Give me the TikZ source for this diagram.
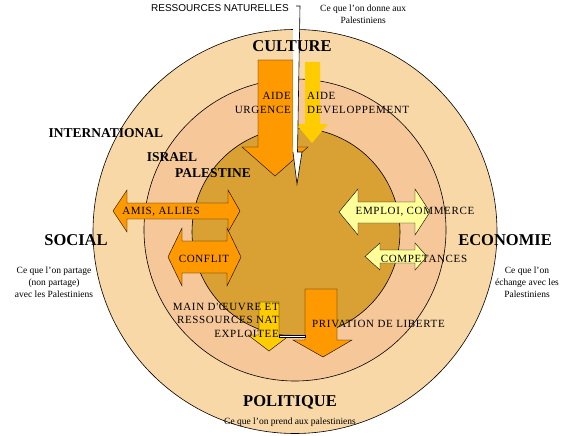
\documentclass[tikz,border=0pt]{standalone}
\usepackage{fontspec}
\setmainfont{Liberation Serif}
\newfontfamily\arialfam{Liberation Sans}
\newfontfamily\spacedfam{Liberation Serif}[LetterSpace=6.0]
\usepackage{tikz}
\definecolor{ringout}{HTML}{F9D8A8}
\definecolor{ringmid}{HTML}{F5C799}
\definecolor{ringin}{HTML}{D9A134}
\definecolor{arrorange}{HTML}{FF9900}
\definecolor{arryellow}{HTML}{FFCC00}
\definecolor{arrpale}{HTML}{FFFF99}
\tikzset{
  ring/.style={draw=black, line width=0.6pt},
  blockarr/.style={draw=black, line width=0.4pt, line join=miter},
  sphere/.style={font=\bfseries\fontsize{16.5}{18}\selectfont, inner sep=0pt},
  level/.style={font=\bfseries\fontsize{13.5}{15}\selectfont, inner sep=0pt},
  note/.style={font=\fontsize{9.5}{12}\selectfont, align=center, inner sep=0pt},
  tag/.style={font=\spacedfam\fontsize{11}{13.5}\selectfont, inner sep=0pt}
}

\begin{document}
\begin{tikzpicture}[x=1pt, y=-1pt]
  \useasboundingbox (0,0) rectangle (576,436);
  % rings
  \fill[ringout, ring] (295,231.5) circle (202pt);
  \fill[ringmid, ring] (295,230) circle (151pt);
  \fill[ringin, ring]  (296,232) circle (104pt);
  % arrows going in
  \fill[arrorange, blockarr] (258,60)--(293,60)--(293,147)--(308,147)--(275,176)--(242,147)--(258,147)--cycle;
  \fill[arryellow] (305,62)--(320,62)--(320,124)--(328,124)--(312,143)--(296,124)--(305,124)--cycle;
  \fill[white] (293,6)--(300,6)--(297.5,152)--(302,152)--(297,184)--(293,152)--cycle;
  \draw[line width=0.6pt] (296,6)--(300,6)--(297.5,152)--(302,152)--(297,184)--(293,152);
  % arrows both ways
  \fill[arrorange, blockarr] (113,211)--(127,190)--(127,203)--(228,203)--(228,190)--(240,211)--(228,232)--(228,219)--(127,219)--(127,232)--cycle;
  \fill[arrorange, blockarr] (168,257)--(182,228)--(182,241)--(227,241)--(227,228)--(241,257)--(227,286)--(227,273)--(182,273)--(182,286)--cycle;
  \fill[arrpale, blockarr] (339,212)--(358,189)--(358,202)--(415,202)--(415,189)--(430,212)--(415,235)--(415,223)--(358,223)--(358,235)--cycle;
  \fill[arrpale, blockarr] (365,256.5)--(380,243)--(380,250)--(415,250)--(415,243)--(427,256.5)--(415,270)--(415,263)--(380,263)--(380,270)--cycle;
  % arrows going out
  \fill[arryellow, blockarr] (259,302)--(279,302)--(279,335)--(290,335)--(269,351)--(248,335)--(259,335)--cycle;
  \fill[arrorange, blockarr] (305,289)--(337,289)--(337,340)--(352,340)--(323,357)--(293,340)--(305,340)--cycle;
  \draw[fill=white, line width=0.4pt] (279,335) rectangle (305,337.5);
  % spheres
  \node[sphere] (culture)   at (292,46)  {CULTURE};
  \node[sphere] (social)    at (76,240)  {SOCIAL};
  \node[sphere] (economie)  at (505,240) {ECONOMIE};
  \node[sphere] (politique) at (290,402) {POLITIQUE};
  \node[level] (intl)      at (106,133) {INTERNATIONAL};
  \node[level] (israel)    at (172,157) {ISRAEL};
  \node[level] (palestine) at (213,173) {PALESTINE};
  % what is exchanged
  \node[note, anchor=west] (donne) at (320,14) {Ce que l'on donne aux\\Palestiniens};
  \node[note] (partage) at (54,282) {Ce que l'on partage\\(non partage)\\avec les Palestiniens};
  \node[note] (echange) at (527,282) {Ce que l'on\\échange avec les\\Palestiniens};
  \node[note] (prend)   at (290,422) {Ce que l'on prend aux palestiniens};
  \node[font=\arialfam\fontsize{10}{12}\selectfont, inner sep=0pt, anchor=east] (resnat) at (289,8) {RESSOURCES NATURELLES};
  % arrow labels
  \node[tag, align=right, anchor=east] (urgence) at (291,103) {AIDE\\URGENCE};
  \node[tag, align=left, anchor=west] (devel) at (307,103) {AIDE\\DEVELOPPEMENT};
  \node[tag] (amis)    at (161,212) {AMIS, ALLIES};
  \node[tag] (conflit) at (204,259) {CONFLIT};
  \node[tag] (emploi)  at (415,212) {EMPLOI, COMMERCE};
  \node[tag] (compet)  at (424,259) {COMPETANCES};
  \node[tag, align=right, anchor=east] (mainoeuvre) at (279,320) {MAIN D'ŒUVRE ET\\RESSOURCES NAT\\EXPLOITEE};
  \node[tag, anchor=west] (privation) at (312,324) {PRIVATION DE LIBERTE};
\end{tikzpicture}
\end{document}
